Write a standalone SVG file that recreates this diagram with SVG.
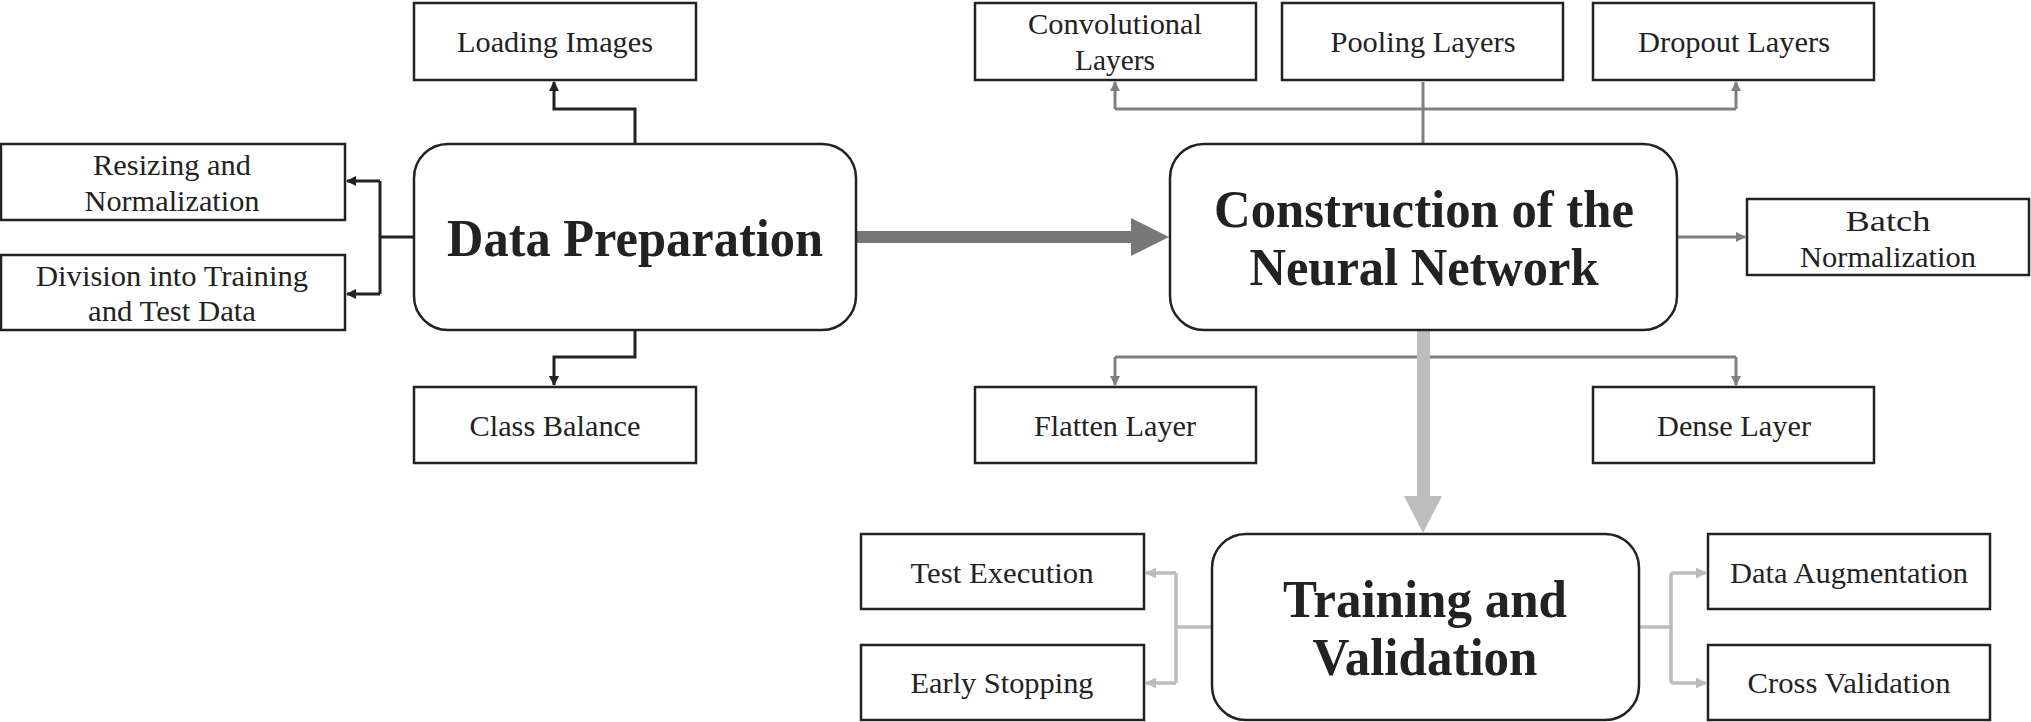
<svg xmlns="http://www.w3.org/2000/svg" width="2031" height="722" viewBox="0 0 2031 722">
<style>
.b{fill:#fff;stroke:#222;stroke-width:2.5}
.t{font-family:"Liberation Serif",serif;font-size:29px;fill:#222;text-anchor:middle}
.h{font-family:"Liberation Serif",serif;font-size:52px;font-weight:bold;fill:#222;text-anchor:middle}
.k{fill:none;stroke:#222;stroke-width:3}
.g{fill:none;stroke:#808080;stroke-width:3}
.l{fill:none;stroke:#bdbdbd;stroke-width:3.5}
</style>
<defs>
<marker id="ak" markerWidth="10" markerHeight="10" refX="9" refY="5" orient="auto" markerUnits="userSpaceOnUse"><path d="M0,0 L10,5 L0,10z" fill="#222"/></marker>
<marker id="ag" markerWidth="10" markerHeight="10" refX="9" refY="5" orient="auto" markerUnits="userSpaceOnUse"><path d="M0,0 L10,5 L0,10z" fill="#808080"/></marker>
<marker id="al" markerWidth="11" markerHeight="11" refX="10" refY="5.5" orient="auto" markerUnits="userSpaceOnUse"><path d="M0,0 L11,5.5 L0,11z" fill="#bdbdbd"/></marker>
</defs>
<g id="connectors">
<path class="k" d="M635,144 V109 H554 V82" marker-end="url(#ak)"/>
<path class="k" d="M414,237 H380 M380,181 V294 M380,181 H347" marker-end="url(#ak)"/>
<path class="k" d="M380,294 H347" marker-end="url(#ak)"/>
<path class="k" d="M635,330 V357 H554 V385" marker-end="url(#ak)"/>
<path d="M856,231 H1131 V218 L1169,237 L1131,256 V243 H856z" fill="#777"/>
<path class="g" d="M1423,144 V82 M1115,109 H1736"/>
<path class="g" d="M1115,109 V82" marker-end="url(#ag)"/>
<path class="g" d="M1736,109 V82" marker-end="url(#ag)"/>
<path class="g" d="M1677,237 H1745" marker-end="url(#ag)"/>
<path class="g" d="M1423,330 V357 M1115,357 H1736"/>
<path class="g" d="M1115,357 V385" marker-end="url(#ag)"/>
<path class="g" d="M1736,357 V385" marker-end="url(#ag)"/>
<path d="M1417,330 H1430 V496 H1442 L1423,533 L1404,496 H1417z" fill="#bdbdbd"/>
<path class="l" d="M1212,627 H1176 M1176,573 V683 M1176,573 H1146" marker-end="url(#al)"/>
<path class="l" d="M1176,683 H1146" marker-end="url(#al)"/>
<path class="l" d="M1639,627 H1671 M1671,573 V683 M1671,573 H1706" marker-end="url(#al)"/>
<path class="l" d="M1671,683 H1706" marker-end="url(#al)"/>
</g>
<g id="loading"><rect class="b" x="414" y="3" width="282" height="77"/><text class="t" x="555" y="52" textLength="196" lengthAdjust="spacingAndGlyphs">Loading Images</text></g>
<g id="resizing"><rect class="b" x="1" y="144" width="344" height="76"/><text class="t" x="172" y="175" textLength="158" lengthAdjust="spacingAndGlyphs">Resizing and</text><text class="t" x="172" y="211" textLength="175" lengthAdjust="spacingAndGlyphs">Normalization</text></g>
<g id="division"><rect class="b" x="1" y="255" width="344" height="75"/><text class="t" x="172" y="286" textLength="272" lengthAdjust="spacingAndGlyphs">Division into Training</text><text class="t" x="172" y="321" textLength="168" lengthAdjust="spacingAndGlyphs">and Test Data</text></g>
<g id="dataprep"><rect class="b" x="414" y="144" width="442" height="186" rx="34"/><text class="h" x="635" y="256" textLength="376" lengthAdjust="spacingAndGlyphs">Data Preparation</text></g>
<g id="classbal"><rect class="b" x="414" y="387" width="282" height="76"/><text class="t" x="555" y="436" textLength="171" lengthAdjust="spacingAndGlyphs">Class Balance</text></g>
<g id="construction"><rect class="b" x="1170" y="144" width="507" height="186" rx="34"/><text class="h" x="1424" y="227" textLength="420" lengthAdjust="spacingAndGlyphs">Construction of the</text><text class="h" x="1424" y="285" textLength="349" lengthAdjust="spacingAndGlyphs">Neural Network</text></g>
<g id="conv"><rect class="b" x="975" y="3" width="281" height="77"/><text class="t" x="1115" y="34" textLength="174" lengthAdjust="spacingAndGlyphs">Convolutional</text><text class="t" x="1115" y="70" textLength="80" lengthAdjust="spacingAndGlyphs">Layers</text></g>
<g id="pooling"><rect class="b" x="1282" y="3" width="281" height="77"/><text class="t" x="1423" y="52" textLength="185" lengthAdjust="spacingAndGlyphs">Pooling Layers</text></g>
<g id="dropout"><rect class="b" x="1593" y="3" width="281" height="77"/><text class="t" x="1734" y="52" textLength="192" lengthAdjust="spacingAndGlyphs">Dropout Layers</text></g>
<g id="batch"><rect class="b" x="1747" y="199" width="282" height="76"/><text class="t" x="1888" y="231" textLength="85" lengthAdjust="spacingAndGlyphs">Batch</text><text class="t" x="1888" y="267" textLength="176" lengthAdjust="spacingAndGlyphs">Normalization</text></g>
<g id="flatten"><rect class="b" x="975" y="387" width="281" height="76"/><text class="t" x="1115" y="436" textLength="162" lengthAdjust="spacingAndGlyphs">Flatten Layer</text></g>
<g id="dense"><rect class="b" x="1593" y="387" width="281" height="76"/><text class="t" x="1734" y="436" textLength="154" lengthAdjust="spacingAndGlyphs">Dense Layer</text></g>
<g id="training"><rect class="b" x="1212" y="534" width="427" height="186" rx="34"/><text class="h" x="1425" y="617" textLength="284" lengthAdjust="spacingAndGlyphs">Training and</text><text class="h" x="1425" y="675" textLength="225" lengthAdjust="spacingAndGlyphs">Validation</text></g>
<g id="testexec"><rect class="b" x="861" y="534" width="283" height="75"/><text class="t" x="1002" y="583" textLength="183" lengthAdjust="spacingAndGlyphs">Test Execution</text></g>
<g id="early"><rect class="b" x="861" y="645" width="283" height="75"/><text class="t" x="1002" y="693" textLength="183" lengthAdjust="spacingAndGlyphs">Early Stopping</text></g>
<g id="dataaug"><rect class="b" x="1708" y="534" width="282" height="75"/><text class="t" x="1849" y="583" textLength="238" lengthAdjust="spacingAndGlyphs">Data Augmentation</text></g>
<g id="crossval"><rect class="b" x="1708" y="645" width="282" height="75"/><text class="t" x="1849" y="693" textLength="203" lengthAdjust="spacingAndGlyphs">Cross Validation</text></g>
</svg>
